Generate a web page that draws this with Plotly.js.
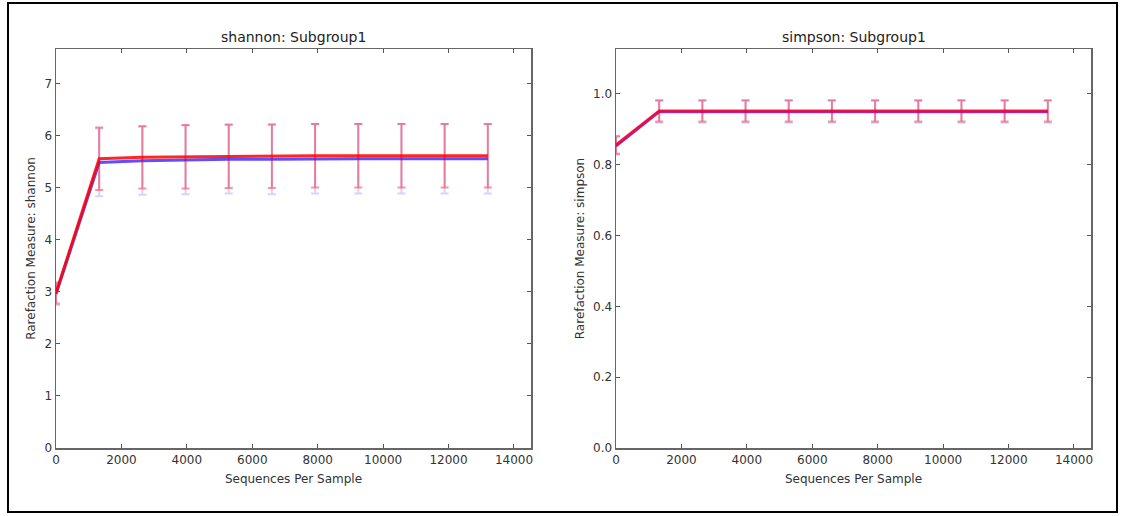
<!DOCTYPE html>
<html>
<head>
<meta charset="utf-8">
<script src="https://cdn.plot.ly/plotly-3.0.1.min.js"></script>
<style>html,body{margin:0;padding:0;background:#fff;}#chart{width:1125px;height:516px;}</style>
</head>
<body>
<div id="chart"></div>
<script>
const depths = [0, 1320, 2640, 3960, 5280, 6600, 7920, 9240, 10560, 11880, 13200];

const shannonRed = [2.98, 5.56, 5.59, 5.60, 5.61, 5.61, 5.62, 5.62, 5.62, 5.62, 5.62];
const shannonRedErr = [0.20, 0.60, 0.60, 0.61, 0.61, 0.61, 0.61, 0.61, 0.61, 0.61, 0.61];
const shannonBlue = [2.96, 5.49, 5.52, 5.54, 5.55, 5.55, 5.56, 5.56, 5.56, 5.56, 5.56];
const shannonBlueErr = [0.21, 0.65, 0.65, 0.66, 0.66, 0.67, 0.67, 0.67, 0.67, 0.67, 0.67];

const simpsonRed = [0.856, 0.952, 0.952, 0.952, 0.952, 0.952, 0.952, 0.952, 0.952, 0.952, 0.952];
const simpsonRedErr = [0.025, 0.030, 0.030, 0.030, 0.030, 0.030, 0.030, 0.030, 0.030, 0.030, 0.030];
const simpsonBlue = [0.853, 0.950, 0.950, 0.950, 0.950, 0.950, 0.950, 0.950, 0.950, 0.950, 0.950];
const simpsonBlueErr = [0.025, 0.031, 0.031, 0.031, 0.031, 0.031, 0.031, 0.031, 0.031, 0.031, 0.031];

const xTickVals = [0, 2000, 4000, 6000, 8000, 10000, 12000, 14000];
const xTickText = ["0", "2000", "4000", "6000", "8000", "10000", "12000", "14000"];
const titles = ["shannon: Subgroup1", "simpson: Subgroup1"];
const yTitles = ["Rarefaction Measure: shannon", "Rarefaction Measure: simpson"];
const xTitle = "Sequences Per Sample";

function tr(y, err, color, errColor, xa, ya) {
  return {
    x: depths, y: y, xaxis: xa, yaxis: ya, type: 'scatter', mode: 'lines',
    line: {color: color, width: 3},
    error_y: {type: 'data', array: err, visible: true, color: errColor, thickness: 2, width: 4},
    showlegend: false, hoverinfo: 'skip'
  };
}

const data = [
  tr(shannonBlue, shannonBlueErr, 'rgba(30,0,255,0.7)', 'rgba(60,60,255,0.22)', 'x', 'y'),
  tr(shannonRed, shannonRedErr, 'rgba(255,0,0,0.85)', 'rgba(255,0,20,0.42)', 'x', 'y'),
  tr(simpsonBlue, simpsonBlueErr, 'rgba(30,0,255,0.7)', 'rgba(60,60,255,0.22)', 'x2', 'y2'),
  tr(simpsonRed, simpsonRedErr, 'rgba(255,0,40,0.85)', 'rgba(255,0,20,0.42)', 'x2', 'y2')
];

const W = 1125, H = 516;
const font = {family: 'DejaVu Sans, sans-serif', size: 12, color: '#333'};
function xax(domain, anchor) {
  return {
    domain: domain, anchor: anchor, range: [0, 14520], tickmode: 'array', tickvals: xTickVals, ticktext: xTickText,
    ticks: 'inside', ticklen: 4, tickcolor: '#555', mirror: 'ticks', showline: true, linecolor: '#666', linewidth: 1.5,
    showgrid: false, zeroline: false, tickfont: font,
    title: {text: xTitle, font: font, standoff: 8}
  };
}
function yax(domain, anchor, range, dtick, fmt, text) {
  return {
    domain: domain, anchor: anchor, range: range, dtick: dtick, tick0: 0, tickformat: fmt,
    ticks: 'inside', ticklen: 4, tickcolor: '#555', mirror: 'ticks', showline: true, linecolor: '#666', linewidth: 1.5,
    showgrid: false, zeroline: false, tickfont: font,
    title: {text: text, font: font, standoff: 6}
  };
}
const yDom = [68 / H, 467 / H];
const layout = {
  width: W, height: H, margin: {l: 0, r: 0, t: 0, b: 0},
  paper_bgcolor: '#fff', plot_bgcolor: '#fff', font: font,
  xaxis: xax([56 / W, 531 / W], 'y'),
  yaxis: yax(yDom, 'x', [0, 7.67], 1, 'd', yTitles[0]),
  xaxis2: xax([616 / W, 1091 / W], 'y2'),
  yaxis2: yax(yDom, 'x2', [0, 1.127], 0.2, '.1f', yTitles[1]),
  annotations: [
    {text: titles[0], xref: 'paper', yref: 'paper', x: (56 + 531) / 2 / W, y: (H - 37) / H, xanchor: 'center', yanchor: 'middle', showarrow: false, font: {family: font.family, size: 14, color: '#222'}},
    {text: titles[1], xref: 'paper', yref: 'paper', x: (616 + 1091) / 2 / W, y: (H - 37) / H, xanchor: 'center', yanchor: 'middle', showarrow: false, font: {family: font.family, size: 14, color: '#222'}}
  ],
  shapes: [
    {type: 'rect', xref: 'paper', yref: 'paper', x0: 8 / W, x1: 1117 / W, y0: 4 / H, y1: 513 / H, line: {color: '#000', width: 2}}
  ]
};
Plotly.newPlot('chart', data, layout, {displayModeBar: false, staticPlot: true});
</script>
</body>
</html>
